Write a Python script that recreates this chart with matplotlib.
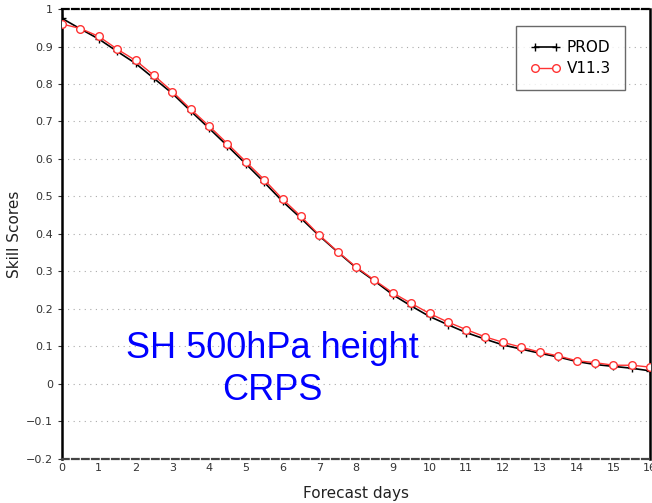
import matplotlib
matplotlib.use("Agg")
import matplotlib.pyplot as plt
import numpy as np

# Forecast lead time (days) and CRPS skill scores
days = [0, 0.5, 1, 1.5, 2, 2.5, 3, 3.5, 4, 4.5, 5, 5.5, 6, 6.5, 7, 7.5, 8,
        8.5, 9, 9.5, 10, 10.5, 11, 11.5, 12, 12.5, 13, 13.5, 14, 14.5, 15, 15.5, 16]
prod = [0.975, 0.947, 0.920, 0.887, 0.855, 0.815, 0.775, 0.728, 0.682, 0.635,
        0.587, 0.538, 0.487, 0.442, 0.395, 0.352, 0.310, 0.275, 0.238, 0.208,
        0.180, 0.158, 0.137, 0.120, 0.104, 0.093, 0.082, 0.072, 0.060, 0.052,
        0.047, 0.042, 0.035]
v113 = [0.960, 0.948, 0.927, 0.893, 0.863, 0.823, 0.780, 0.733, 0.688, 0.641,
        0.593, 0.545, 0.493, 0.447, 0.397, 0.353, 0.312, 0.277, 0.243, 0.215,
        0.188, 0.165, 0.145, 0.126, 0.111, 0.098, 0.085, 0.075, 0.062, 0.057,
        0.050, 0.050, 0.045]

xticks = list(range(0, 17))
yticks = [-0.2, -0.1, 0, 0.1, 0.2, 0.3, 0.4, 0.5, 0.6, 0.7, 0.8, 0.9, 1]
ylabels = ["\u22120.2", "\u22120.1", "0", "0.1", "0.2", "0.3", "0.4", "0.5",
           "0.6", "0.7", "0.8", "0.9", "1"]

fig = plt.figure(figsize=(6.52, 5.03), dpi=100)
ax = fig.add_axes([0.0951, 0.0875, 0.902, 0.8946])

ax.plot(days, prod, color="black", lw=1.2, marker="+", ms=6, mew=1.0,
        label="PROD", zorder=3)
ax.plot(days, v113, color="#ff3333", lw=1.0, marker="o", ms=5.5, mew=1.0,
        mfc="white", mec="#ff3333", label="V11.3", zorder=4)

ax.set_xlim(0, 16)
ax.set_ylim(-0.2, 1)
ax.set_xticks(xticks)
ax.set_xticklabels([str(t) for t in xticks])
ax.set_yticks(yticks)
ax.set_yticklabels(ylabels)
ax.tick_params(axis="both", labelsize=8, colors="#333333", length=3, width=0.8)
ax.tick_params(axis="x", length=0, pad=3)
for lab in ax.get_xticklabels() + ax.get_yticklabels():
    lab.set_color("#333333")

ax.yaxis.grid(True, linestyle=(0, (1, 4)), color="#aaaaaa", lw=0.8)

for side in ["left", "right"]:
    ax.spines[side].set_linewidth(1.8)
    ax.spines[side].set_color("black")
for side in ["top", "bottom"]:
    ax.spines[side].set_linestyle((0, (3, 1.5)))
    ax.spines[side].set_linewidth(1.6)
ax.spines["top"].set_color("black")
ax.spines["bottom"].set_color("#444444")

ax.set_xlabel("Forecast days", fontsize=11, color="#222222", labelpad=9)
ax.set_ylabel("Skill Scores", fontsize=11, color="#222222", labelpad=3)

ax.text(0.357, 0.199, "SH 500hPa height\nCRPS", transform=ax.transAxes,
        ha="center", va="center", color="#0000ff", fontsize=26,
        family="Liberation Sans", linespacing=1.25)

leg = ax.legend(loc="upper right", bbox_to_anchor=(0.957, 0.962), fontsize=11,
                frameon=True, fancybox=False, edgecolor="#444444", numpoints=2,
                handlelength=2.0, handletextpad=0.4, borderpad=0.9,
                labelspacing=0.4, borderaxespad=0)
leg.get_frame().set_linewidth(1.0)

fig.savefig("out.png", dpi=100)
